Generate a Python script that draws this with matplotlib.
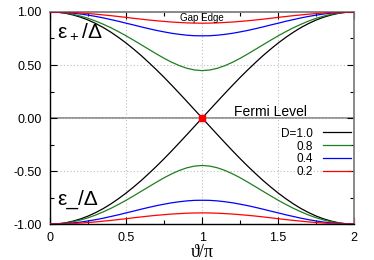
import numpy as np
import matplotlib
matplotlib.use("Agg")
import matplotlib.pyplot as plt

plt.rcParams['font.family'] = ['Liberation Sans', 'DejaVu Sans']

# theta/pi, 0 .. 2 in steps of 0.05
theta = [0.00, 0.05, 0.10, 0.15, 0.20, 0.25, 0.30, 0.35, 0.40, 0.45,
         0.50, 0.55, 0.60, 0.65, 0.70, 0.75, 0.80, 0.85, 0.90, 0.95,
         1.00, 1.05, 1.10, 1.15, 1.20, 1.25, 1.30, 1.35, 1.40, 1.45,
         1.50, 1.55, 1.60, 1.65, 1.70, 1.75, 1.80, 1.85, 1.90, 1.95, 2.00]

# upper branch eps+/Delta for each transparency D
e_d10 = [1.000, 0.997, 0.988, 0.972, 0.951, 0.924, 0.891, 0.853, 0.809, 0.760,
         0.707, 0.649, 0.588, 0.522, 0.454, 0.383, 0.309, 0.233, 0.156, 0.078,
         0.000, 0.078, 0.156, 0.233, 0.309, 0.383, 0.454, 0.522, 0.588, 0.649,
         0.707, 0.760, 0.809, 0.853, 0.891, 0.924, 0.951, 0.972, 0.988, 0.997, 1.000]
e_d08 = [1.000, 0.998, 0.990, 0.978, 0.961, 0.940, 0.914, 0.884, 0.851, 0.814,
         0.775, 0.733, 0.690, 0.647, 0.604, 0.563, 0.526, 0.494, 0.469, 0.453,
         0.447, 0.453, 0.469, 0.494, 0.526, 0.563, 0.604, 0.647, 0.690, 0.733,
         0.775, 0.814, 0.851, 0.884, 0.914, 0.940, 0.961, 0.978, 0.990, 0.998, 1.000]
e_d04 = [1.000, 0.999, 0.995, 0.989, 0.981, 0.970, 0.958, 0.944, 0.928, 0.912,
         0.894, 0.877, 0.859, 0.842, 0.826, 0.812, 0.799, 0.789, 0.781, 0.776,
         0.775, 0.776, 0.781, 0.789, 0.799, 0.812, 0.826, 0.842, 0.859, 0.877,
         0.894, 0.912, 0.928, 0.944, 0.958, 0.970, 0.981, 0.989, 0.995, 0.999, 1.000]
e_d02 = [1.000, 0.999, 0.998, 0.995, 0.990, 0.985, 0.979, 0.972, 0.965, 0.957,
         0.949, 0.940, 0.932, 0.924, 0.917, 0.911, 0.905, 0.901, 0.897, 0.895,
         0.894, 0.895, 0.897, 0.901, 0.905, 0.911, 0.917, 0.924, 0.932, 0.940,
         0.949, 0.957, 0.965, 0.972, 0.979, 0.985, 0.990, 0.995, 0.998, 0.999, 1.000]

curves = [e_d10, e_d08, e_d04, e_d02]
labels = ['D=1.0', '0.8', '0.4', '0.2']
colors = ['black', '#1f7f1f', '#0000ff', '#ff0000']

fig = plt.figure(figsize=(3.74, 2.60), dpi=100)
ax = fig.add_axes([0.134, 0.138, 0.813, 0.816])

ax.axhline(0, color='#8c8c8c', lw=1.3, zorder=1)

for e, lab, c in zip(curves, labels, colors):
    e = np.array(e)
    ax.plot(theta, e, color=c, lw=0.9, label=lab, zorder=3)
    ax.plot(theta, -e, color=c, lw=0.9, zorder=3)

ax.plot([1.0], [0.0], marker='s', ms=4.5, color='#ff0000', mec='#ff0000', zorder=5)

ax.set_xlim(0, 2)
ax.set_ylim(-1, 1)
ax.set_xticks([0, 0.5, 1, 1.5, 2])
ax.set_xticklabels(['0', '0.5', '1', '1.5', '2'])
ax.set_yticks([-1, -0.5, 0, 0.5, 1])
ax.set_yticklabels(['-1.00', '-0.50', '0.00', '0.50', '1.00'])
ax.set_xticks(np.arange(0, 2.01, 0.25), minor=True)
ax.set_yticks(np.arange(-1, 1.01, 0.25), minor=True)
ax.tick_params(which='both', direction='in', top=True, right=True, labelsize=9, colors='black')
ax.tick_params(which='major', length=5, width=0.8, pad=6)
ax.tick_params(which='minor', length=3, width=0.8)
ax.grid(True, which='major', linestyle=(0, (1, 2)), color='#bdbdbd', lw=0.8, zorder=0)

for s in ['left', 'bottom']:
    ax.spines[s].set_color('black')
    ax.spines[s].set_linewidth(1.0)
for s in ['top', 'right']:
    ax.spines[s].set_color('#808080')
    ax.spines[s].set_linewidth(1.3)

ax.set_xlabel('ϑ/π', family=['Liberation Serif', 'DejaVu Serif'], fontsize=13, labelpad=0)

ax.text(0.045, 0.755, r'$\mathregular{ε_+/Δ}$', fontsize=15, ha='left', va='baseline')
ax.text(0.045, -0.82, 'ε_/Δ', fontsize=15, ha='left', va='baseline')
ax.text(1.0, 0.945, 'Gap Edge', fontsize=7, ha='center', va='center')
ax.text(1.45, 0.015, 'Fermi Level', fontsize=10, ha='center', va='baseline')

ax.legend(loc='upper right', bbox_to_anchor=(0.99, 0.455), frameon=False, fontsize=8.5,
          markerfirst=False, handlelength=2.4, handletextpad=0.8, labelspacing=0.08,
          borderpad=0, borderaxespad=0)

fig.savefig('out.png', dpi=100)
